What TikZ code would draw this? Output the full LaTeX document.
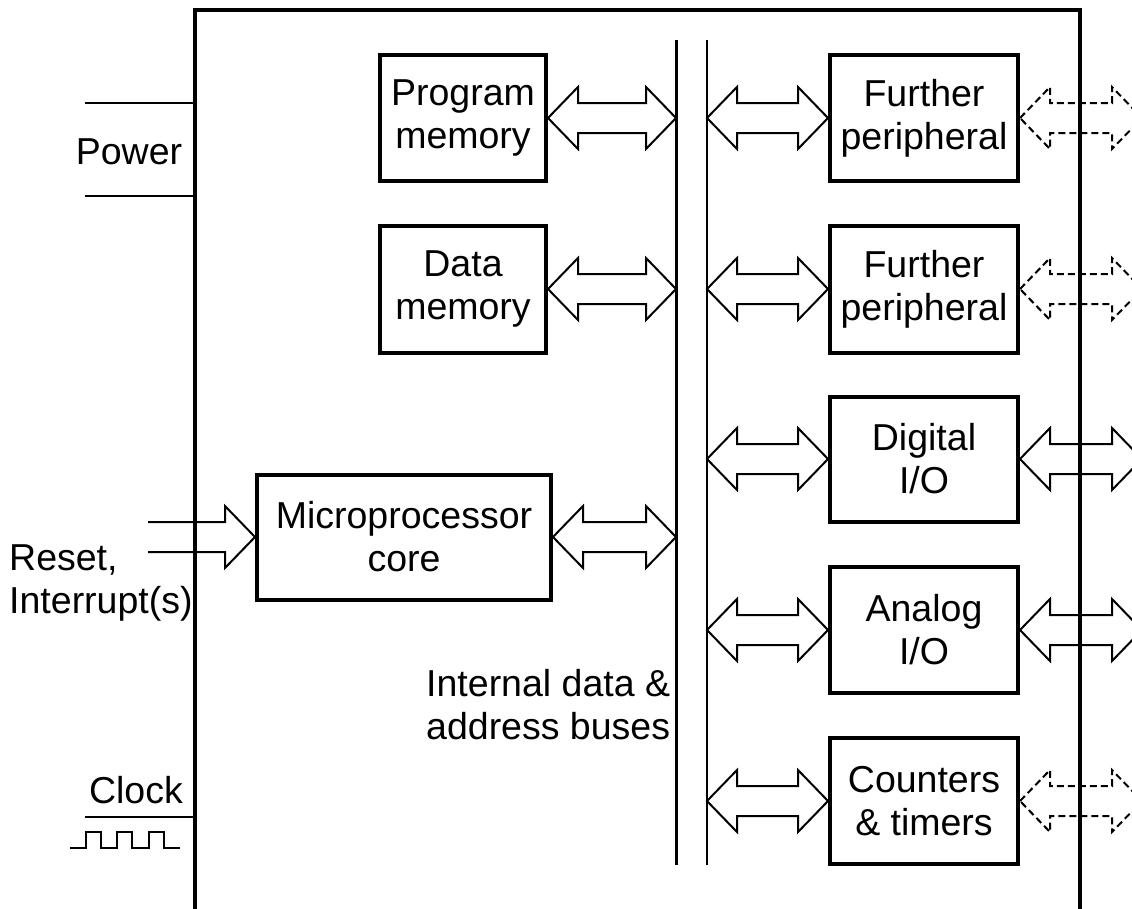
\documentclass[tikz,border=0pt]{standalone}
\usepackage{fontspec}
\setmainfont{Liberation Sans}
\usetikzlibrary{calc}
\tikzset{
  every picture/.style={x=1pt,y=-1pt},
  blk/.style={draw, line width=4pt, align=center, inner sep=0pt,
    font=\fontsize{37.5}{43}\selectfont},
  lbl/.style={inner sep=0pt, font=\fontsize{37.5}{43}\selectfont},
  arr/.style={draw, line width=2pt, line join=miter},
  darr/.style={arr, dash pattern=on 7pt off 4pt},
  wire/.style={line width=2.5pt},
}
% double hollow arrow between two points at the same height
\newcommand{\dblarrow}[3]{%
  \path[#1] (#2) -- ++(30,-31) -- ++(0,16) -- ($(#3)+(-30,-15)$) -- ++(0,-16)
    -- (#3) -- ++(-30,31) -- ++(0,-16) -- ($(#2)+(30,15)$) -- ++(0,16) -- cycle;}
\begin{document}
\begin{tikzpicture}
\useasboundingbox (0,0) rectangle (1132,908);
\clip (0,0) rectangle (1132,908);
% outer chip boundary
\draw[line width=4pt, line join=miter] (195,915) -- (195,10) -- (1080,10) -- (1080,915);
% buses
\coordinate (busL) at (676,40);
\coordinate (busR) at (707,40);
\coordinate (edge) at (1142,0);
\draw[line width=3pt] (busL) -- (676,865);
\draw[line width=2pt] (busR) -- (707,865);
% blocks
\node[blk, minimum width=166pt, minimum height=126pt] (pm) at (463,118) {Program\\memory};
\node[blk, minimum width=166pt, minimum height=127pt] (dm) at (463,289) {Data\\memory};
\node[blk, minimum width=294pt, minimum height=125pt] (cpu) at (404,537) {Microprocessor\\core};
\node[blk, minimum width=188pt, minimum height=126pt] (p1) at (924,118) {Further\\peripheral};
\node[blk, minimum width=188pt, minimum height=127pt] (p2) at (924,289) {Further\\peripheral};
\node[blk, minimum width=188pt, minimum height=125pt] (dio) at (924,459) {Digital\\I/O};
\node[blk, minimum width=188pt, minimum height=126pt] (aio) at (924,630) {Analog\\I/O};
\node[blk, minimum width=188pt, minimum height=126pt] (ct) at (924,801) {Counters\\\& timers};
% arrows to the left bus
\dblarrow{arr}{pm.east}{busL |- pm.east}
\dblarrow{arr}{dm.east}{busL |- dm.east}
\dblarrow{arr}{cpu.east}{busL |- cpu.east}
% arrows from the right bus
\dblarrow{arr}{busR |- p1.west}{p1.west}
\dblarrow{arr}{busR |- p2.west}{p2.west}
\dblarrow{arr}{busR |- dio.west}{dio.west}
\dblarrow{arr}{busR |- aio.west}{aio.west}
\dblarrow{arr}{busR |- ct.west}{ct.west}
% arrows to the outside
\dblarrow{darr}{p1.east}{edge |- p1.east}
\dblarrow{darr}{p2.east}{edge |- p2.east}
\dblarrow{arr}{dio.east}{edge |- dio.east}
\dblarrow{arr}{aio.east}{edge |- aio.east}
\dblarrow{darr}{ct.east}{edge |- ct.east}
% power
\draw[wire] (85,103) -- (195,103);
\draw[wire] (85,196) -- (195,196);
\node[lbl] (pwr) at (129,152) {Power};
% reset / interrupt input arrow
\coordinate (rin) at (148,537);
\draw[arr] ($(rin)+(0,-15)$) -- ($(cpu.west)+(-30,-15)$) -- ++(0,-16) -- (cpu.west)
  -- ($(cpu.west)+(-30,31)$) -- ++(0,-16) -- ($(rin)+(0,15)$);
\node[lbl, anchor=west, align=left] (rst) at (9,583) {Reset,\\Interrupt(s)};
% clock
\node[lbl, anchor=east] (clk) at (183,790) {Clock};
\draw[wire] (85,817) -- (195,817);
\draw[line width=1.5pt] (70,848) -- (86,848) -- (86,832) -- (101,832) -- (101,848)
  -- (117,848) -- (117,832) -- (132,832) -- (132,848) -- (149,848) -- (149,832)
  -- (164,832) -- (164,848) -- (180,848);
% bus label
\node[lbl, anchor=west, align=left] (buslbl) at (426,705) {Internal data \&\\address buses};
\end{tikzpicture}
\end{document}
